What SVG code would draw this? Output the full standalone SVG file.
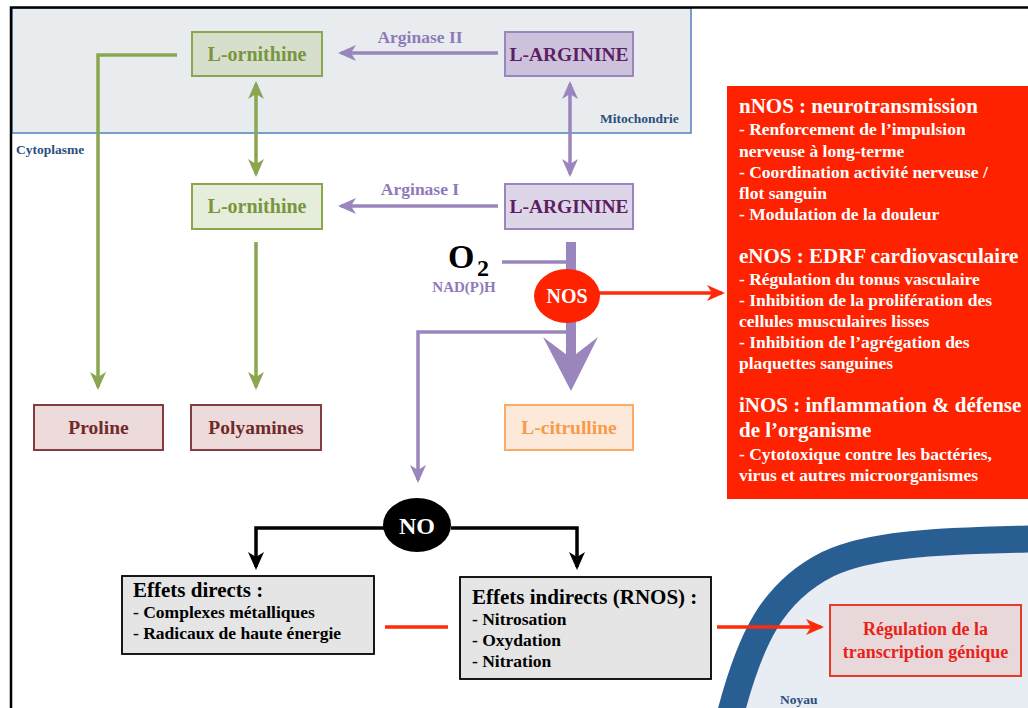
<svg xmlns="http://www.w3.org/2000/svg" width="1028" height="708" viewBox="0 0 1028 708">
<defs>
<style>
text{font-family:"Liberation Serif","Times New Roman",serif;font-weight:bold}
.orn{fill:#78963e;font-size:20px;text-anchor:middle}
.arg{fill:#5e1e63;font-size:19.5px;text-anchor:middle}
.prod{fill:#6f2b2b;font-size:19.5px;text-anchor:middle}
.cit{fill:#f79a4a;font-size:19.5px;text-anchor:middle}
.enz{fill:#8f7ab8;font-size:17.5px;text-anchor:middle}
.comp{fill:#2b4f7e;font-size:13.5px}
.pw{fill:#fff;font-size:17.5px}
.ph{fill:#fff;font-size:21px}
.eh{fill:#000;font-size:21px}
.ei{fill:#000;font-size:17.5px}
.pl{fill:none;stroke:#9a85bd;stroke-width:3.5}
.gl{fill:none;stroke:#8aa64f;stroke-width:3.5}
.bl{fill:none;stroke:#000;stroke-width:3.5}
.rl{fill:none;stroke:#ff2a0a;stroke-width:3.5}
</style>
<marker id="mp" markerUnits="userSpaceOnUse" markerWidth="18" markerHeight="18" viewBox="0 0 18 18" refX="15" refY="9" orient="auto-start-reverse"><path d="M0,1 L18,9 L0,17 L5,9 Z" fill="#9a85bd"/></marker>
<marker id="mg" markerUnits="userSpaceOnUse" markerWidth="18" markerHeight="18" viewBox="0 0 18 18" refX="15" refY="9" orient="auto-start-reverse"><path d="M0,1 L18,9 L0,17 L5,9 Z" fill="#8aa64f"/></marker>
<marker id="mb" markerUnits="userSpaceOnUse" markerWidth="18" markerHeight="18" viewBox="0 0 18 18" refX="15" refY="9" orient="auto-start-reverse"><path d="M0,1 L18,9 L0,17 L5,9 Z" fill="#000"/></marker>
<marker id="mr" markerUnits="userSpaceOnUse" markerWidth="18" markerHeight="18" viewBox="0 0 18 18" refX="15" refY="9" orient="auto-start-reverse"><path d="M0,1 L18,9 L0,17 L5,9 Z" fill="#ff2a0a"/></marker>
</defs>

<rect width="1028" height="708" fill="#fff"/>

<!-- compartments -->
<g id="mitochondrie">
<rect x="12" y="8" width="679" height="125" fill="#e8ecef" stroke="#4f81bd" stroke-width="1.5"/>
<text class="comp" x="600" y="123">Mitochondrie</text>
</g>
<g id="cytoplasme">
<path d="M11,708 L11,7.5 L1028,7.5" fill="none" stroke="#000" stroke-width="2.5"/>
<text class="comp" x="16" y="154">Cytoplasme</text>
</g>
<g id="noyau">
<path d="M731,712 C750,640 772,592 828,564 C868,545 930,541 1032,539 L1032,712 Z" fill="#e8ecf3"/>
<path d="M731,712 C750,640 772,592 828,564 C868,545 930,541 1032,539" fill="none" stroke="#285e92" stroke-width="27"/>
<text class="comp" x="780" y="704">Noyau</text>
</g>

<!-- connectors -->
<g id="connectors">
<line class="pl" x1="498" y1="53" x2="341" y2="53" marker-end="url(#mp)"/>
<line class="pl" x1="498" y1="206" x2="341" y2="206" marker-end="url(#mp)"/>
<line class="pl" x1="570" y1="84" x2="570" y2="174" marker-start="url(#mp)" marker-end="url(#mp)"/>
<line class="gl" x1="256" y1="84" x2="256" y2="174" marker-start="url(#mg)" marker-end="url(#mg)"/>
<path class="gl" d="M177,55 L98,55 L98,387" marker-end="url(#mg)"/>
<line class="gl" x1="256" y1="242" x2="256" y2="387" marker-end="url(#mg)"/>
<line class="pl" x1="502" y1="262" x2="568" y2="262"/>
<path class="pl" d="M568,332 L418,332 L418,480" marker-end="url(#mp)"/>
<rect x="566" y="242" width="10" height="116" fill="#9a85bd"/>
<polygon points="543,337 571,358 598,337 571,391" fill="#9a85bd"/>
<line class="rl" x1="598" y1="293" x2="722" y2="293" marker-end="url(#mr)"/>
<path class="bl" d="M384,528 L256,528 L256,567" marker-end="url(#mb)"/>
<path class="bl" d="M451,528 L577,528 L577,567" marker-end="url(#mb)"/>
<line class="rl" x1="385" y1="627" x2="448" y2="627"/>
<line class="rl" x1="717" y1="627" x2="821" y2="627" marker-end="url(#mr)"/>
</g>

<g id="enzymes">
<text class="enz" x="420" y="43">Arginase II</text>
<text class="enz" x="420" y="195">Arginase I</text>
</g>

<!-- nodes -->
<g id="ornithine-mito">
<rect x="192" y="32" width="130" height="44" fill="#d7dfcc" stroke="#8aa64f" stroke-width="2"/>
<text class="orn" x="257" y="61">L-ornithine</text>
</g>
<g id="arginine-mito">
<rect x="505" y="32" width="128" height="44" fill="#ccc2dc" stroke="#9a85bd" stroke-width="2"/>
<text class="arg" x="569" y="61">L-ARGININE</text>
</g>
<g id="ornithine-cyto">
<rect x="192" y="184" width="130" height="45" fill="#e7eddb" stroke="#8aa64f" stroke-width="2"/>
<text class="orn" x="257" y="213">L-ornithine</text>
</g>
<g id="arginine-cyto">
<rect x="505" y="184" width="128" height="45" fill="#ddd6e9" stroke="#9a85bd" stroke-width="2"/>
<text class="arg" x="569" y="213">L-ARGININE</text>
</g>
<g id="proline">
<rect x="34" y="405" width="129" height="45" fill="#eddada" stroke="#843c3c" stroke-width="2"/>
<text class="prod" x="98.5" y="434">Proline</text>
</g>
<g id="polyamines">
<rect x="191" y="405" width="130" height="45" fill="#eddada" stroke="#843c3c" stroke-width="2"/>
<text class="prod" x="256" y="434">Polyamines</text>
</g>
<g id="citrulline">
<rect x="505" y="405" width="128" height="45" fill="#fde9d9" stroke="#f9ac66" stroke-width="2"/>
<text class="cit" x="569" y="434">L-citrulline</text>
</g>
<g id="o2">
<text x="448" y="268" style="font-size:34px;fill:#000">O</text>
<text x="477" y="276" style="font-size:24px;fill:#000">2</text>
<text x="464" y="292" style="font-size:15px;fill:#8f7ab8;text-anchor:middle">NAD(P)H</text>
</g>
<g id="nos">
<ellipse cx="567" cy="296" rx="33" ry="27" fill="#ff2200"/>
<text x="567" y="303" style="font-size:20px;fill:#fff;text-anchor:middle">NOS</text>
</g>
<g id="no">
<ellipse cx="417" cy="525" rx="34" ry="27" fill="#000"/>
<text x="417" y="534" style="font-size:24px;fill:#fff;text-anchor:middle">NO</text>
</g>
<g id="isoformes">
<rect x="727" y="86" width="301" height="413" fill="#ff2200"/>
<text class="ph" x="739" y="113">nNOS : neurotransmission</text>
<text class="pw" x="739" y="135">- Renforcement de l’impulsion</text>
<text class="pw" x="739" y="157">nerveuse à long-terme</text>
<text class="pw" x="739" y="178">- Coordination activité nerveuse /</text>
<text class="pw" x="739" y="199">flot sanguin</text>
<text class="pw" x="739" y="220">- Modulation de la douleur</text>
<text class="ph" x="739" y="263">eNOS : EDRF cardiovasculaire</text>
<text class="pw" x="739" y="285">- Régulation du tonus vasculaire</text>
<text class="pw" x="739" y="306">- Inhibition de la prolifération des</text>
<text class="pw" x="739" y="327">cellules musculaires lisses</text>
<text class="pw" x="739" y="348">- Inhibition de l’agrégation des</text>
<text class="pw" x="739" y="369">plaquettes sanguines</text>
<text class="ph" x="739" y="412">iNOS : inflammation &amp; défense</text>
<text class="ph" x="739" y="437">de l’organisme</text>
<text class="pw" x="739" y="460">- Cytotoxique contre les bactéries,</text>
<text class="pw" x="739" y="481">virus et autres microorganismes</text>
</g>
<g id="effets-directs">
<rect x="122" y="576" width="252" height="78" fill="#e5e5e5" stroke="#000" stroke-width="1.8"/>
<text class="eh" x="133" y="597">Effets directs :</text>
<text class="ei" x="133" y="618">- Complexes métalliques</text>
<text class="ei" x="133" y="639">- Radicaux de haute énergie</text>
</g>
<g id="effets-indirects">
<rect x="460" y="577" width="251" height="102" fill="#e5e5e5" stroke="#000" stroke-width="1.8"/>
<text class="eh" x="472" y="604">Effets indirects (RNOS) :</text>
<text class="ei" x="472" y="625">- Nitrosation</text>
<text class="ei" x="472" y="646">- Oxydation</text>
<text class="ei" x="472" y="667">- Nitration</text>
</g>
<g id="regulation">
<rect x="830" y="605" width="191" height="71" fill="#e9d8d9" stroke="#e83a2a" stroke-width="2"/>
<text x="925.5" y="635" style="font-size:18px;fill:#e8221a;text-anchor:middle">Régulation de la</text>
<text x="925.5" y="658" style="font-size:18px;fill:#e8221a;text-anchor:middle">transcription génique</text>
</g>
</svg>
